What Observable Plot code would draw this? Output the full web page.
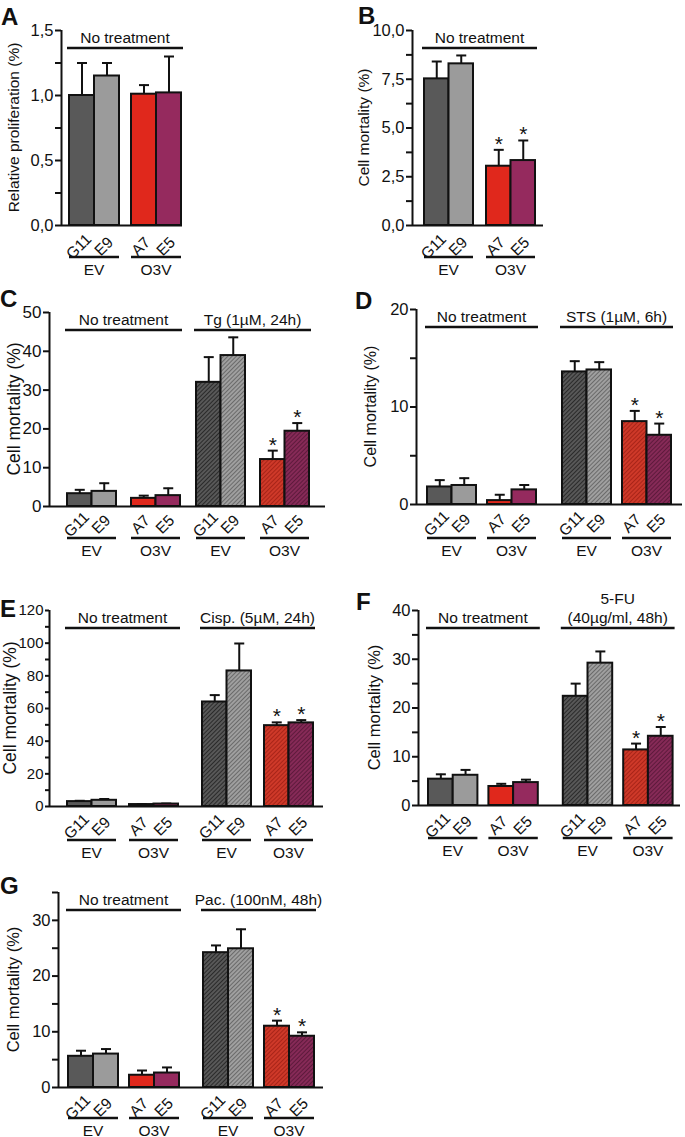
<!DOCTYPE html>
<html><head><meta charset="utf-8">
<script src="https://cdn.jsdelivr.net/npm/d3@7"></script>
<script src="https://cdn.jsdelivr.net/npm/@observablehq/plot@0.6"></script>
<style>
body{margin:0;background:#fff;}
#fig{position:relative;width:685px;height:1137px;font-family:"Liberation Sans",Arial,sans-serif;overflow:hidden;}
.panel{position:absolute;}
</style></head><body>
<svg width="0" height="0" style="position:absolute">
<defs>
<pattern id="h0" patternUnits="userSpaceOnUse" width="3" height="3" patternTransform="rotate(45)"><rect width="3" height="3" fill="#5a5a5a"/><line x1="1.5" y1="0" x2="1.5" y2="3" stroke="#2a2a2a" stroke-width="1.1"/></pattern>
<pattern id="h1" patternUnits="userSpaceOnUse" width="3" height="3" patternTransform="rotate(45)"><rect width="3" height="3" fill="#a2a2a2"/><line x1="1.5" y1="0" x2="1.5" y2="3" stroke="#6a6a6a" stroke-width="1.1"/></pattern>
<pattern id="h2" patternUnits="userSpaceOnUse" width="3" height="3" patternTransform="rotate(45)"><rect width="3" height="3" fill="#d03a2a"/><line x1="1.5" y1="0" x2="1.5" y2="3" stroke="#a82418" stroke-width="1.1"/></pattern>
<pattern id="h3" patternUnits="userSpaceOnUse" width="3" height="3" patternTransform="rotate(45)"><rect width="3" height="3" fill="#882a58"/><line x1="1.5" y1="0" x2="1.5" y2="3" stroke="#5e1a3c" stroke-width="1.1"/></pattern>
</defs></svg>
<div id="fig"></div>
<script>
// ---------- data ----------
const cellLines = ["G11","E9","A7","E5"];
const vectorGroups = ["EV","EV","O3V","O3V"];
const noTreatment = "No treatment";
const yLabelA = "Relative proliferation (%)";
const yLabelMort = "Cell mortality (%)";

const meanA = [1.00, 1.15, 1.01, 1.02];
const errA  = [0.25, 0.10, 0.07, 0.28];
const starA = [0, 0, 0, 0];

const meanB = [7.52, 8.29, 3.04, 3.33];
const errB  = [0.89, 0.43, 0.84, 1.03];
const starB = [0, 0, 1, 1];

const treatC = ["Tg (1µM, 24h)"];
const meanC = [3.3, 3.9, 2.1, 2.8, 32.0, 38.9, 12.1, 19.4];
const errC  = [1.0, 2.1, 0.7, 1.9, 6.5, 4.7, 2.3, 2.1];
const starC = [0, 0, 0, 0, 0, 0, 1, 1];

const treatD = ["STS (1µM, 6h)"];
const meanD = [1.8, 1.95, 0.4, 1.5, 13.6, 13.8, 8.5, 7.1];
const errD  = [0.7, 0.75, 0.6, 0.5, 1.1, 0.8, 1.1, 1.2];
const starD = [0, 0, 0, 0, 0, 0, 1, 1];

const treatE = ["Cisp. (5µM, 24h)"];
const meanE = [3.0, 3.8, 1.2, 1.5, 64.0, 83.0, 49.5, 51.2];
const errE  = [0.5, 0.8, 0.3, 0.3, 4.2, 16.8, 2.0, 1.7];
const starE = [0, 0, 0, 0, 0, 0, 1, 1];

const treatF = ["5-FU", "(40µg/ml, 48h)"];
const meanF = [5.4, 6.2, 3.9, 4.7, 22.4, 29.2, 11.4, 14.2];
const errF  = [1.0, 1.1, 0.55, 0.6, 2.6, 2.4, 1.3, 1.9];
const starF = [0, 0, 0, 0, 0, 0, 1, 1];

const treatG = ["Pac. (100nM, 48h)"];
const meanG = [5.6, 6.0, 2.2, 2.6, 24.2, 24.9, 11.0, 9.2];
const errG  = [1.0, 0.9, 0.85, 1.0, 1.3, 3.5, 1.0, 0.7];
const starG = [0, 0, 0, 0, 0, 0, 1, 1];

const ticksA = [0, 0.5, 1.0, 1.5],   minorA = [0.25, 0.75, 1.25];
const ticksB = [0, 2.5, 5, 7.5, 10], minorB = [1.25, 3.75, 6.25, 8.75];
const ticksC = [0, 10, 20, 30, 40, 50], minorC = [];
const ticksD = [0, 10, 20], minorD = [5, 15];
const ticksE = [0, 20, 40, 60, 80, 100, 120], minorE = [10, 30, 50, 70, 90, 110];
const ticksF = [0, 10, 20, 30, 40], minorF = [5, 15, 25, 35];
const ticksG = [0, 10, 20, 30], minorG = [5, 15, 25, 35];

// ---------- styles ----------
const plainFill = ["#595959", "#9b9b9b", "#e0281c", "#952a5e"];
const hatchFill = ["url(#h0)", "url(#h1)", "url(#h2)", "url(#h3)"];
const FONT = "Liberation Sans, Arial, sans-serif";
const comma1 = d => d.toFixed(1).replace(".", ",");

const panels = [
  {key:"A", mean:meanA, err:errA, star:starA, treat:null, ticks:ticksA, minor:minorA, fmt:comma1, ylab:yLabelA,
   left:0, top:0, w:340, h:280, axisX:61, axisEnd:182, yTop:30, y0:225, max:1.5, tick:6,
   first:69, bw:25, pairGap:12, groupGap:0, tickFont:16.5, labFont:15.5, labX:13, catOff:21, lineOff:32},
  {key:"B", mean:meanB, err:errB, star:starB, treat:null, ticks:ticksB, minor:minorB, fmt:comma1, ylab:yLabelMort,
   left:340, top:0, w:345, h:280, axisX:412, axisEnd:543, yTop:30, y0:225, max:10, tick:6,
   first:424, bw:24.5, pairGap:13, groupGap:0, tickFont:16.5, labFont:15.5, labX:363, catOff:21, lineOff:32},
  {key:"C", mean:meanC, err:errC, star:starC, treat:treatC, ticks:ticksC, minor:minorC, fmt:d=>String(d), ylab:yLabelMort,
   left:0, top:285, w:340, h:280, axisX:49, axisEnd:325, yTop:312, y0:506, max:50, tick:6,
   first:67, bw:24.5, pairGap:15, groupGap:16, tickFont:17, labFont:17.5, labX:14, catOff:18, lineOff:32},
  {key:"D", mean:meanD, err:errD, star:starD, treat:treatD, ticks:ticksD, minor:minorD, fmt:d=>String(d), ylab:yLabelMort,
   left:340, top:285, w:345, h:280, axisX:416, axisEnd:682, yTop:309, y0:504, max:20, tick:6,
   first:427, bw:24.5, pairGap:11, groupGap:26, tickFont:16.5, labFont:16, labX:370, catOff:19, lineOff:34},
  {key:"E", mean:meanE, err:errE, star:starE, treat:treatE, ticks:ticksE, minor:minorE, fmt:d=>String(d), ylab:yLabelMort,
   left:0, top:575, w:340, h:290, axisX:49, axisEnd:323, yTop:610, y0:806, max:120, tick:4,
   first:67, bw:24.5, pairGap:13, groupGap:24, tickFont:15, labFont:17.5, labX:10, catOff:20, lineOff:34},
  {key:"F", mean:meanF, err:errF, star:starF, treat:treatF, ticks:ticksF, minor:minorF, fmt:d=>String(d), ylab:yLabelMort,
   left:340, top:575, w:345, h:290, axisX:418, axisEnd:680, yTop:610, y0:805, max:40, tick:6,
   first:428, bw:24.7, pairGap:11, groupGap:25, tickFont:16.5, labFont:16.5, labX:374, catOff:20, lineOff:33},
  {key:"G", mean:meanG, err:errG, star:starG, treat:treatG, ticks:ticksG, minor:minorG, fmt:d=>String(d), ylab:yLabelMort,
   left:0, top:870, w:340, h:267, axisX:58, axisEnd:323, yTop:892, y0:1087, max:35, tick:6,
   first:68, bw:25, pairGap:11, groupGap:24, tickFont:16.5, labFont:16.5, labX:13, catOff:20, lineOff:31}
];

const fig = document.getElementById("fig");

function drawPanel(P) {
  const rows = P.mean.map((m, i) => {
    const p = Math.floor(i / 2), g = Math.floor(i / 4);
    const x1 = P.first - P.axisX + i * P.bw + (p - g) * P.pairGap + g * P.groupGap;
    return {i, pair: p, group: g, line: cellLines[i % 4], vec: vectorGroups[i % 4],
            mean: m, top: m + P.err[i], star: !!P.star[i], x1, x2: x1 + P.bw, cx: x1 + P.bw / 2,
            fill: g === 1 ? hatchFill[i % 4] : plainFill[i % 4]};
  });
  const groupNames = P.treat ? [[noTreatment], P.treat] : [[noTreatment]];

  const annot = (index, scales, values, dims) => {
    const x = scales.x, y = scales.y;
    const g = d3.create("svg:g").attr("font-family", FONT).attr("fill", "#111");
    const top = y(P.max), base = y(0);
    groupNames.forEach((lbls, gi) => {
      const gr = rows.filter(d => d.group === gi);
      const xa = x(d3.min(gr, d => d.x1)) - 2, xb = x(d3.max(gr, d => d.x2)) + 2;
      g.append("line").attr("x1", xa).attr("x2", xb).attr("y1", top + 18).attr("y2", top + 18)
        .attr("stroke", "#111").attr("stroke-width", 2.5);
      lbls.forEach((t, k) => {
        g.append("text").attr("x", (xa + xb) / 2).attr("y", top + 7 - (lbls.length - 1 - k) * 19)
          .attr("text-anchor", "middle").attr("dominant-baseline", "central")
          .attr("font-size", 15.5).text(t);
      });
    });
    d3.groups(rows, d => d.pair).forEach(([p, pr]) => {
      const xa = x(d3.min(pr, d => d.x1)), xb = x(d3.max(pr, d => d.x2));
      const yy = base + P.lineOff;
      g.append("line").attr("x1", xa).attr("x2", xb).attr("y1", yy).attr("y2", yy)
        .attr("stroke", "#111").attr("stroke-width", 2.5);
      g.append("text").attr("x", (xa + xb) / 2).attr("y", yy + 12)
        .attr("text-anchor", "middle").attr("dominant-baseline", "central")
        .attr("font-size", 15.5).text(pr[0].vec);
    });
    g.append("text").attr("transform", `translate(${P.labX - P.left},${(top + base) / 2}) rotate(-90)`)
      .attr("text-anchor", "middle").attr("dominant-baseline", "central")
      .attr("font-size", P.labFont).text(P.ylab);
    return g.node();
  };

  const plot = Plot.plot({
    width: P.w, height: P.h,
    marginLeft: P.axisX - P.left, marginRight: P.left + P.w - P.axisEnd,
    marginTop: P.yTop - P.top, marginBottom: P.top + P.h - P.y0,
    style: {fontFamily: FONT, color: "#111", background: "transparent", overflow: "visible"},
    x: {domain: [0, P.axisEnd - P.axisX], axis: null},
    y: {domain: [0, P.max], axis: null},
    color: {type: "identity"},
    marks: [
      Plot.axisY({ticks: P.minor, tickFormat: () => "", tickSize: P.tick, strokeWidth: 2}),
      Plot.axisY({ticks: P.ticks, tickFormat: P.fmt, tickSize: P.tick, tickPadding: 2, strokeWidth: 2, fontSize: P.tickFont, label: null}),
      Plot.ruleX(rows, {x: "cx", y1: "mean", y2: "top", stroke: "#111", strokeWidth: 2}),
      Plot.link(rows, {x1: d => d.cx - 5, x2: d => d.cx + 5, y1: "top", y2: "top", stroke: "#111", strokeWidth: 2}),
      Plot.rect(rows, {x1: "x1", x2: "x2", y1: 0, y2: "mean", fill: "fill", stroke: "#111", strokeWidth: 2}),
      Plot.ruleY([0], {stroke: "#111", strokeWidth: 2}),
      Plot.ruleX([0], {y1: 0, y2: P.max, stroke: "#111", strokeWidth: 2}),
      Plot.text(rows.filter(d => d.star), {x: "cx", y: "top", text: () => "*", dy: 1, lineAnchor: "bottom", fontSize: 21, fill: "#111"}),
      Plot.text(rows, {x: d => d.cx - 3, y: 0, text: "line", rotate: -45, dy: P.catOff, fontSize: 15.5, fill: "#111"}),
      annot
    ]
  });
  const div = document.createElement("div");
  div.className = "panel";
  div.style.left = P.left + "px";
  div.style.top = P.top + "px";
  div.appendChild(plot);
  fig.appendChild(div);
}

panels.forEach(drawPanel);

const letters = [
  {t: "A", x: 1, y: 25}, {t: "B", x: 358, y: 24}, {t: "C", x: 0, y: 307},
  {t: "D", x: 355, y: 309}, {t: "E", x: 0, y: 617}, {t: "F", x: 356, y: 610}, {t: "G", x: 0, y: 894}
];
const ov = d3.select(fig).append("svg").attr("width", 685).attr("height", 1137)
  .style("position", "absolute").style("left", 0).style("top", 0).style("pointer-events", "none");
ov.selectAll("text").data(letters).join("text")
  .attr("x", d => d.x).attr("y", d => d.y).attr("font-family", FONT)
  .attr("font-weight", "bold").attr("font-size", 24).attr("fill", "#111").text(d => d.t);
</script>
</body></html>
